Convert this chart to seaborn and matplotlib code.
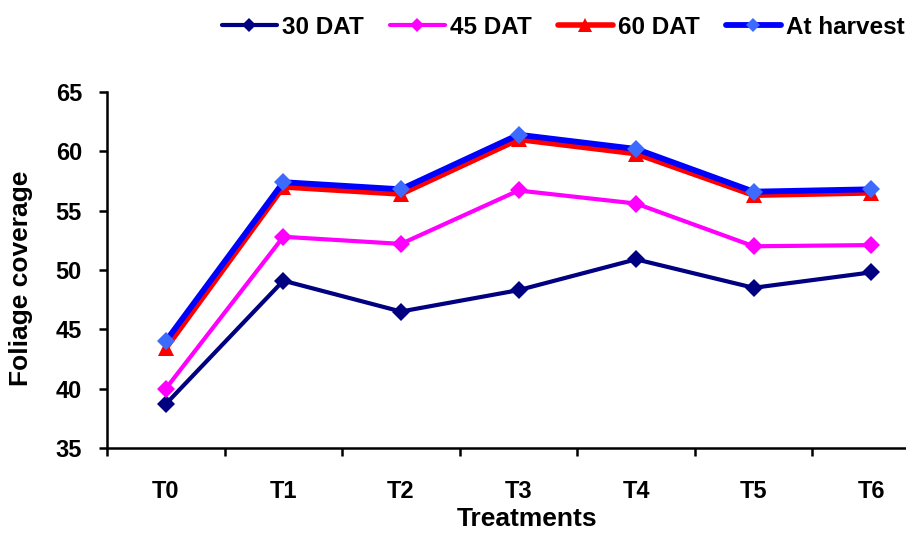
"""Foliage coverage across treatments at four growth stages."""

import matplotlib

matplotlib.use("Agg")
import matplotlib.pyplot as plt
import pandas as pd
import seaborn as sns
from matplotlib.ticker import FixedLocator

treatments = ["T0", "T1", "T2", "T3", "T4", "T5", "T6"]
dat_30 = [38.7, 49.1, 46.5, 48.3, 50.9, 48.5, 49.8]
dat_45 = [40.0, 52.8, 52.2, 56.7, 55.6, 52.0, 52.1]
dat_60 = [43.4, 57.0, 56.4, 61.0, 59.8, 56.3, 56.5]
at_harvest = [44.0, 57.4, 56.8, 61.4, 60.2, 56.6, 56.8]

series = [
    ("30 DAT", dat_30, dict(color="#000080", marker="D", lw=3.0, ms=9, mfc="#000080", mec="#000080")),
    ("45 DAT", dat_45, dict(color="#FF00FF", marker="D", lw=3.0, ms=9, mfc="#FF00FF", mec="#FF00FF")),
    ("60 DAT", dat_60, dict(color="#FF0000", marker="^", lw=4.0, ms=12, mfc="#FF0000", mec="#FF0000")),
    ("At harvest", at_harvest, dict(color="#0000FF", marker="D", lw=4.2, ms=9, mfc="#3D6BFF", mec="#3D6BFF")),
]

sns.set_style("white")
plt.rcParams["font.family"] = ["Liberation Sans", "DejaVu Sans"]
plt.rcParams["font.weight"] = "bold"
plt.rcParams["text.color"] = "black"
plt.rcParams["axes.labelcolor"] = "black"
plt.rcParams["xtick.color"] = "black"
plt.rcParams["ytick.color"] = "black"

fig = plt.figure(figsize=(9.06, 5.33), dpi=100)
ax = fig.add_axes([107 / 906, 85 / 533, 823 / 906, 356 / 533])

for name, values, style in series:
    df = pd.DataFrame({"Treatment": treatments, "value": values})
    sns.lineplot(
        data=df,
        x="Treatment",
        y="value",
        ax=ax,
        label=name,
        color=style["color"],
        marker=style["marker"],
        linewidth=style["lw"],
        markersize=style["ms"],
        markerfacecolor=style["mfc"],
        markeredgecolor=style["mec"],
        markeredgewidth=0,
        legend=False,
    )

ax.set_xlim(-0.5, 6.5)
ax.set_ylim(35, 65)
ax.set_yticks(range(35, 66, 5))
ax.set_xticks(range(len(treatments)))
ax.set_xticklabels(treatments)
ax.xaxis.set_minor_locator(FixedLocator([i + 0.5 for i in range(-1, len(treatments))]))

for side in ("top", "right"):
    ax.spines[side].set_visible(False)
for side in ("left", "bottom"):
    ax.spines[side].set_linewidth(1.8)
    ax.spines[side].set_color("black")

ax.tick_params(axis="x", which="major", length=0, pad=23, labelsize=17)
ax.tick_params(axis="x", which="minor", length=6, width=1.8, direction="out", bottom=True)
ax.tick_params(axis="y", which="major", length=6, width=1.8, direction="out", left=True,
               pad=12, labelsize=17)

ax.set_xlabel("Treatments", fontsize=19, fontweight="bold")
ax.set_ylabel("Foliage coverage", fontsize=19, fontweight="bold")
ax.xaxis.set_label_coords(0.51, -0.165)
ax.yaxis.set_label_coords(-0.09, 0.478)

handles, labels = ax.get_legend_handles_labels()
fig.legend(
    handles,
    labels,
    loc="center left",
    bbox_to_anchor=(222 / 906, 1 - 27 / 533),
    ncol=4,
    frameon=False,
    fontsize=17.5,
    handlelength=2.25,
    handletextpad=0.2,
    columnspacing=1.1,
    borderpad=0,
    borderaxespad=0,
    markerscale=0.8,
)

fig.savefig("out.png", dpi=100)
